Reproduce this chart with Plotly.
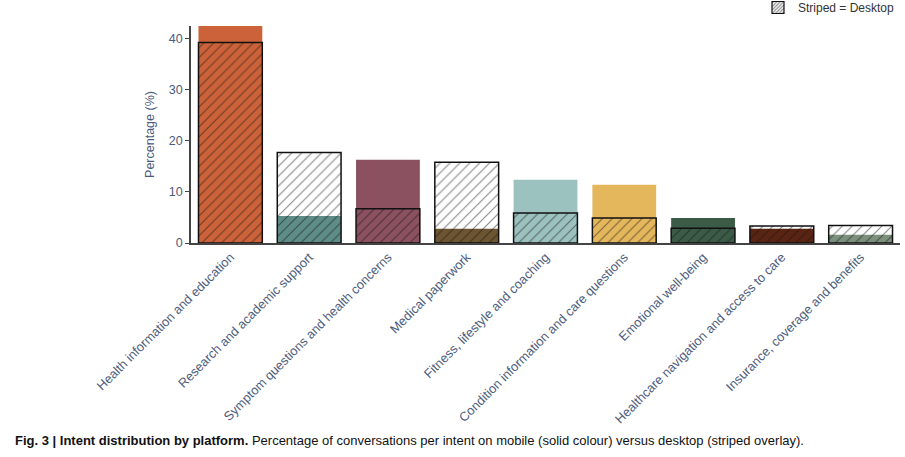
import plotly.graph_objects as go

categories = [
    "Health information and education",
    "Research and academic support",
    "Symptom questions and health concerns",
    "Medical paperwork",
    "Fitness, lifestyle and coaching",
    "Condition information and care questions",
    "Emotional well-being",
    "Healthcare navigation and access to care",
    "Insurance, coverage and benefits",
]
mobile = [42.4, 5.3, 16.25, 2.8, 12.35, 11.4, 4.9, 2.8, 1.6]
desktop = [39.2, 17.7, 6.7, 15.8, 5.85, 4.9, 2.9, 3.3, 3.4]
colors = ["#CC6239", "#5E8C87", "#8C5160", "#6C5530", "#9CC2C0",
          "#E5B75C", "#3B5B47", "#5A2412", "#7B917E"]

label_color = "#4B5B7C"
font_family = "Liberation Sans, Arial, sans-serif"

fig = go.Figure()
fig.add_trace(go.Bar(
    x=categories, y=mobile, name="Mobile",
    marker=dict(color=colors, line=dict(width=0)),
    showlegend=False,
))
fig.add_trace(go.Bar(
    x=categories, y=desktop, name="Desktop",
    marker=dict(
        color="rgba(0,0,0,0)",
        line=dict(color="#111111", width=1.5),
        pattern=dict(shape="/", fgcolor="#111111", bgcolor="rgba(0,0,0,0)",
                     size=7, solidity=0.16),
    ),
    showlegend=False,
))
# legend-only entry
fig.add_trace(go.Bar(
    x=[categories[0]], y=[None], name="Striped = Desktop",
    marker=dict(
        color="white",
        line=dict(color="#111111", width=1.2),
        pattern=dict(shape="/", fgcolor="#111111", bgcolor="white",
                     size=3, solidity=0.45),
    ),
    showlegend=True,
))

fig.update_layout(
    width=905, height=457,
    barmode="overlay", bargap=0.19,
    paper_bgcolor="white", plot_bgcolor="white",
    margin=dict(l=190.5, r=4.5, t=26, b=213.7, autoexpand=False),
    font=dict(family=font_family, size=12, color=label_color),
    legend=dict(
        x=1.0, xanchor="right", y=1 + 33 / 217, yanchor="top",
        font=dict(size=12, color="#333333"),
        bgcolor="rgba(0,0,0,0)", borderwidth=0,
        itemwidth=30,
    ),
    xaxis=dict(
        tickangle=-45, showline=True, linecolor="#444444", linewidth=1.5,
        ticks="", showgrid=False, tickfont=dict(size=12.8, color=label_color),
        range=[-0.5, 8.5],
    ),
    yaxis=dict(
        range=[0, 42.4], tickvals=[0, 10, 20, 30, 40],
        showline=True, linecolor="#444444", linewidth=1.5,
        ticks="outside", ticklen=4, tickcolor="#444444",
        showgrid=False, zeroline=False,
        tickfont=dict(size=12.5, color=label_color),
        title=dict(text="Percentage (%)", font=dict(size=12.5, color=label_color), standoff=11),
    ),
)

fig.add_annotation(
    xref="paper", yref="paper", x=(12 - 190.5) / 710, y=(243.3 - 441) / 217.3,
    xanchor="left", yanchor="middle",
    text="<b>Fig. 3 | Intent distribution by platform.</b> Percentage of conversations per intent on mobile (solid colour) versus desktop (striped overlay).",
    showarrow=False,
    font=dict(family="Liberation Sans Narrow, Arial Narrow, sans-serif", size=13, color="#111111"),
)

fig.write_html("out.html", config={"displayModeBar": False},
               post_script="document.body.style.margin='0';document.body.style.overflow='hidden';")
